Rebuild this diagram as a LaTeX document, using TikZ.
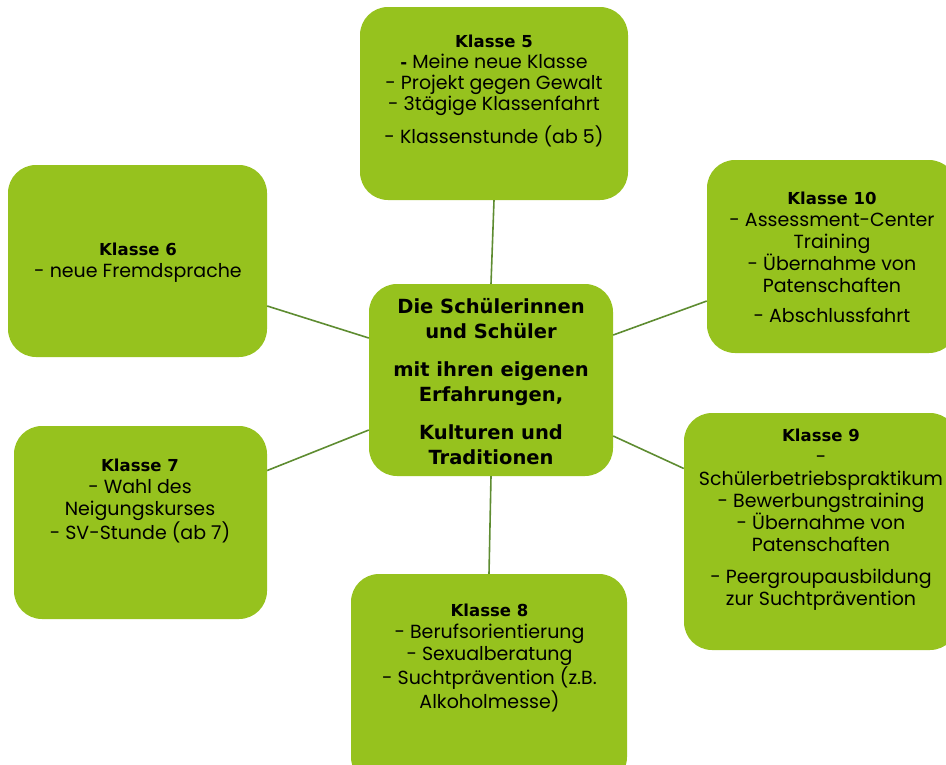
\documentclass[tikz,border=0pt]{standalone}
\usepackage{fontspec}
\setmainfont{Poppins}
\newfontfamily\titlefont{DejaVu Sans}
\definecolor{boxgreen}{RGB}{150,194,30}
\definecolor{linegreen}{RGB}{94,140,49}
\newcommand{\kl}[1]{{\titlefont\bfseries\fontsize{16.5}{22}\selectfont #1}}
\tikzset{
	klasse/.style={fill=boxgreen, rounded corners=28pt, inner sep=0pt},
	txt/.style={align=center, anchor=north, inner sep=0pt, text=black, font=\fontsize{19}{22}\selectfont},
	verbind/.style={draw=linegreen, line width=1.6pt},
}
\begin{document}
\begin{tikzpicture}[x=1pt, y=-1pt]
	    \useasboundingbox (0,0) rectangle (946,764);
	    \clip (0,0) rectangle (946,764);
	    % boxes
	    \node[klasse, minimum width=244pt, minimum height=192pt] (c) at (491,380) {};
	    \node[klasse, minimum width=268pt, minimum height=193pt] (k5) at (494,103.5) {};
	    \node[klasse, minimum width=259pt, minimum height=192pt] (k6) at (137.5,261) {};
	    \node[klasse, minimum width=253pt, minimum height=193pt] (k7) at (140.5,522.5) {};
	    \node[klasse, minimum width=276pt, minimum height=211pt] (k8) at (489,679.5) {};
	    \node[klasse, minimum width=274pt, minimum height=237pt] (k9) at (821,531.5) {};
	    \node[klasse, minimum width=250pt, minimum height=193pt] (k10) at (832,256.5) {};
	
	    % texts
	    \node[txt, font=\titlefont\bfseries\fontsize{19.5}{25}\selectfont] (ct) at (491,298)
	    	{Die Schülerinnen\\ und Schüler\\[13pt] mit ihren eigenen\\ Erfahrungen,\\[13pt] Kulturen und\\ Traditionen};
	    \node[txt, font=\fontsize{19}{21}\selectfont] (t5) at (494,35) {\kl{Klasse 5}\\ \kl{-} Meine neue Klasse\\ - Projekt gegen Gewalt\\ - 3tägige Klassenfahrt\\[9pt] - Klassenstunde (ab 5)};
	    \node[txt] (t6) at (138,243) {\kl{Klasse 6}\\ - neue Fremdsprache};
	    \node[txt] (t7) at (140,459) {\kl{Klasse 7}\\ - Wahl des\\ Neigungskurses\\ - SV-Stunde (ab 7)};
	    \node[txt] (t8) at (489.5,604) {\kl{Klasse 8}\\ - Berufsorientierung\\ - Sexualberatung\\ - Suchtprävention (z.B.\\ Alkoholmesse)};
	    \node[txt] (t9) at (821,429) {\kl{Klasse 9}\\ -\\ Schülerbetriebspraktikum\\ - Bewerbungstraining\\ - Übernahme von\\ Patenschaften\\[10pt] - Peergroupausbildung\\ zur Suchtprävention};
	    \node[txt] (t10) at (832,192) {\kl{Klasse 10}\\ - Assessment-Center\\ Training\\ - Übernahme von\\ Patenschaften\\[8pt] - Abschlussfahrt};
	
	    % connectors
	    \path[verbind]
	    (k5.south) edge (c.north)
	    ([yshift=-45pt]k6.east) edge ([yshift=42pt]c.west)
	    ([yshift=52pt]k7.east) edge ([yshift=-50pt]c.west)
	    (k8.north) edge (c.south)
	    ([yshift=63pt]k9.west) edge ([yshift=-56pt]c.east)
	    ([yshift=-44.5pt]k10.west) edge ([yshift=45pt]c.east)
	    ;
\end{tikzpicture}
\end{document}
